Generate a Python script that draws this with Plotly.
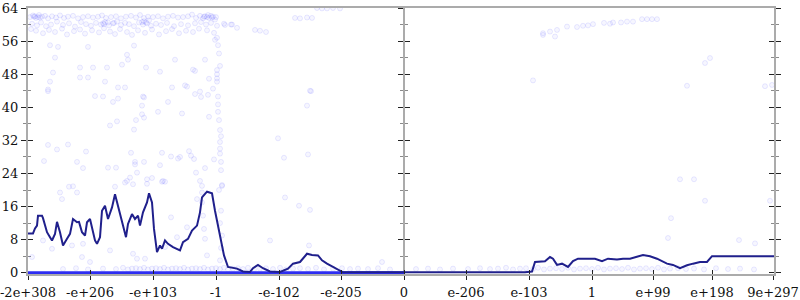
import plotly.graph_objects as go

# x values are ordinal positions of the double-precision inputs (0 .. 746), y is bits of error
tick_pos = [0, 62, 125, 188, 251, 313, 376, 438, 501, 564, 625, 684, 745]
tick_text = ["-2e+308", "-e+206", "-e+103", "-1", "-e-102", "-e-205", "0",
             "e-206", "e-103", "1", "e+99", "e+198", "9e+297"]
x_max = 746
zero_ord = 376

# average error line
mean_x = [0, 5, 7, 9, 10, 14, 15, 19, 22, 24, 27, 29, 32, 35, 39, 42, 45, 49, 51, 54,
          57, 59, 62, 64, 67, 69, 72, 74, 77, 80, 84, 87, 89, 92, 95, 98, 100, 104, 107, 110,
          112, 115, 119, 121, 124, 126, 129, 132, 134, 137, 140, 145, 152, 155, 160, 164, 169, 172, 174, 179,
          184, 187, 192, 196, 200,
          209, 215, 222, 225, 230, 235, 242, 252, 260, 265, 272, 279, 284, 290, 294, 299, 305, 310, 315,
          497, 504, 507, 512, 517, 522, 525, 529, 534, 540, 545, 550, 559, 567, 574, 580, 589, 595, 602, 607,
          615, 622, 629, 639, 645, 652, 659, 665, 672, 679, 684, 746]
mean_y = [9.5, 9.5, 10.7, 11.4, 13.8, 13.8, 13.2, 9.8, 8.6, 7.8, 9.4, 12.3, 9.8, 6.6, 8.2, 9.4, 13.0, 12.2, 12.3, 9.8,
          9.0, 12.2, 13.0, 11.0, 7.8, 7.0, 8.6, 15.0, 16.2, 13.0, 15.8, 19.0, 17.0, 13.8, 11.4, 8.6, 11.8, 14.2, 13.0, 13.8,
          11.4, 14.6, 17.0, 19.2, 17.0, 10.6, 5.0, 6.6, 5.8, 7.8, 7.0, 6.2, 5.4, 7.4, 8.2, 10.2, 11.4, 14.6, 18.2, 19.6,
          19.2, 15.0, 9.0, 4.2, 1.4,
          1.0, 0.3, 0.2, 1.1, 1.9, 1.1, 0.3, 0.2, 1.0, 2.2, 2.6, 4.6, 4.3, 4.2, 3.0, 2.2, 1.4, 0.6, 0.1,
          0.1, 0.3, 2.6, 2.7, 2.8, 3.8, 3.4, 1.9, 2.2, 1.4, 2.8, 3.4, 3.4, 3.4, 2.8, 3.4, 3.2, 3.4, 3.4, 3.8,
          4.3, 4.0, 3.4, 2.2, 1.9, 1.1, 1.8, 2.2, 2.6, 2.6, 4.0, 4.0]

# dense run of exact (0-bit) samples on the negative side
zero_run_x = [0, 376]
zero_run_y = [0, 0]

# sampled points (ordinal, bits)
band_top = [(2, 61.8), (5, 62.2), (8, 61.6), (11, 62.3), (14, 61.9), (17, 62.1), (20, 61.5), (24, 62.0), (28, 61.7), (32, 62.2),
            (36, 61.6), (40, 61.9), (45, 62.1), (50, 61.5), (55, 61.8), (60, 62.0), (65, 61.7), (70, 61.9), (74, 62.2), (78, 61.6),
            (83, 61.8), (88, 62.0), (93, 61.5), (98, 61.9), (103, 62.1), (108, 61.7), (112, 62.3), (116, 61.6), (120, 61.9), (125, 61.8),
            (130, 62.0), (135, 61.5), (140, 61.9), (145, 62.1), (150, 61.7), (155, 61.8), (160, 62.0), (164, 62.4), (168, 61.6), (172, 62.1),
            (176, 61.9), (180, 62.3), (184, 61.7), (188, 61.8),
            (6, 61.9), (7, 62.0), (10, 61.8), (12, 61.7), (175, 61.5), (177, 62.0), (179, 61.8), (181, 61.6), (183, 62.1), (185, 61.9), (187, 61.2)]
band_mid = [(4, 60.2), (9, 59.8), (13, 60.5), (18, 59.6), (23, 60.0), (29, 60.7), (35, 59.9), (41, 60.3), (47, 59.5), (53, 60.6),
            (58, 60.1), (63, 59.7), (68, 60.4), (73, 60.0), (77, 60.6), (81, 59.8), (85, 60.3), (89, 60.7), (93, 59.9), (97, 60.4),
            (101, 60.1), (106, 59.6), (111, 60.5), (115, 60.0), (119, 60.3), (123, 59.7), (128, 60.2), (133, 59.9), (139, 60.4), (146, 59.6),
            (153, 60.1), (160, 59.8), (167, 60.3), (173, 60.6), (178, 60.0), (183, 60.4), (189, 59.7), (196, 60.2), (204, 60.0),
            (75, 60.3), (76, 60.1), (80, 60.5), (86, 60.4), (114, 60.6), (116, 60.8), (118, 60.5), (121, 61.0),
            (197, 59.9), (203, 60.0), (209, 59.2)]
band_low = [(3, 58.9), (8, 58.5), (15, 57.9), (21, 58.7), (27, 58.2), (34, 59.0), (39, 57.6), (46, 58.4), (52, 58.8), (57, 57.8),
            (64, 58.6), (71, 58.1), (76, 59.1), (82, 58.3), (87, 57.7), (92, 58.9), (99, 58.2), (104, 57.5), (110, 58.6), (117, 58.0),
            (124, 58.8), (131, 57.6), (138, 58.4), (144, 58.9), (151, 57.9), (158, 58.5), (165, 58.2), (171, 59.0), (179, 58.6), (186, 58.0),
            (189, 56.8), (227, 58.7), (232, 58.5), (238, 58.2),
            (289, 64.0), (294, 63.9), (299, 63.9), (305, 64.0), (312, 63.9), (267, 61.6), (272, 61.5), (279, 61.7), (284, 61.6)]
scatter_left = [(22, 55.0), (30, 54.6), (60, 54.6), (27, 52.0), (99, 52.7), (100, 51.5), (106, 54.9), (147, 51.5), (177, 51.5), (187, 56.3),
                (25, 48.4), (52, 49.6), (65, 49.6), (79, 49.6), (94, 50.3), (118, 49.6), (132, 48.6), (165, 49.1), (167, 48.8), (189, 49.0),
                (189, 48.0), (189, 47.0), (189, 46.2), (181, 46.9), (22, 46.2), (52, 47.2), (60, 47.2), (77, 46.2), (90, 44.8), (97, 44.8),
                (115, 42.6), (144, 44.8), (157, 45.3), (172, 43.8), (180, 43.0), (20, 44.3), (75, 42.6), (159, 45.0), (185, 44.5), (190, 42.6),
                (282, 44.0), (20, 43.9), (67, 42.7), (85, 41.3), (90, 42.1), (116, 42.4), (140, 41.3), (167, 43.2), (173, 42.5), (190, 40.7),
                (190, 38.9), (114, 40.4), (130, 38.9), (154, 38.5), (114, 38.3), (116, 37.5), (108, 36.9), (89, 36.6), (82, 35.6), (106, 34.6),
                (181, 37.7), (191, 36.9), (192, 34.5), (192, 31.6), (20, 30.9), (29, 29.8), (40, 31.0), (58, 29.3), (16, 27.0), (49, 26.8),
                (55, 25.3), (80, 25.4), (88, 25.4), (103, 29.0), (107, 26.8), (107, 26.2), (116, 26.8), (134, 29.0), (143, 28.1), (150, 27.6),
                (152, 28.0), (161, 29.4), (163, 28.3), (166, 27.5), (186, 27.4), (192, 28.8), (193, 26.8), (193, 24.8), (109, 24.2), (119, 22.6),
                (124, 22.9), (102, 23.0), (97, 21.8), (105, 21.4), (134, 22.0), (137, 22.0), (168, 24.2), (177, 25.3), (132, 26.0), (41, 20.8),
                (45, 20.9), (87, 20.8), (194, 21.0), (194, 21.2), (191, 53.0), (192, 50.0), (190, 55.0), (193, 33.0), (192, 30.0), (191, 20.0),
                (193, 15.0), (192, 12.0), (194, 9.0), (193, 6.0), (192, 3.0),
                (32, 19.4), (49, 19.4), (34, 17.8), (15, 7.8), (4, 3.8), (54, 3.8), (62, 2.6), (82, 5.4), (105, 4.6), (109, 3.4),
                (117, 3.4), (137, 6.2), (143, 13.4), (149, 8.6), (159, 11.0), (169, 17.8), (172, 22.2), (174, 21.0), (174, 19.4), (174, 17.0),
                (175, 13.8), (176, 10.6), (177, 8.2), (179, 4.2), (135, 22.2), (99, 22.2), (119, 21.5), (55, 7.0), (24, 5.8), (44, 6.6),
                (257, 18.2), (271, 16.2), (282, 15.2), (242, 7.8), (281, 6.6), (354, 2.6),
                (250, 32.5), (256, 27.8), (280, 28.6), (279, 40.4), (283, 43.9)]
scatter_right = [(652, 22.6), (666, 22.6), (677, 17.4), (643, 13.2), (640, 8.4), (711, 7.9), (727, 7.1), (742, 17.4),
                 (515, 57.5), (515, 57.9), (522, 58.3), (529, 58.7), (527, 57.1), (539, 59.5), (549, 59.4), (555, 59.7), (560, 59.8), (565, 60.1),
                 (576, 60.4), (582, 60.2), (585, 60.5), (593, 60.5), (599, 60.7), (605, 60.7), (614, 61.3), (619, 61.3), (624, 61.3), (629, 61.3),
                 (505, 46.5), (659, 45.2), (677, 50.7), (682, 51.9), (737, 45.1), (744, 45.4)]
near_zero = [(35, 0.9), (48, 1.1), (60, 0.8), (75, 1.0), (88, 0.9), (95, 1.2), (100, 0.8), (104, 1.0), (108, 1.1), (112, 0.9),
             (116, 1.2), (120, 0.8), (124, 1.0), (128, 1.1), (132, 0.9), (136, 1.2), (140, 0.8), (144, 1.0), (148, 1.1), (152, 0.9),
             (156, 1.2), (160, 0.8), (164, 1.0), (168, 1.1), (172, 0.9), (176, 1.2), (180, 0.8), (184, 1.0), (188, 1.1), (192, 0.9),
             (196, 1.2), (200, 0.8), (205, 1.0), (210, 1.1), (215, 0.9), (220, 1.2), (226, 0.8), (232, 1.0), (238, 1.1), (245, 0.9),
             (252, 1.2), (258, 0.8), (265, 1.0), (272, 1.1), (280, 0.9), (288, 1.2), (296, 0.8), (305, 1.0), (314, 1.1), (322, 0.9),
             (330, 1.0), (340, 0.9), (350, 1.1), (362, 0.8),
             (388, 0.9), (400, 1.0), (412, 0.8), (425, 1.0), (440, 0.9), (452, 1.1), (462, 0.9), (470, 1.0), (478, 1.2), (485, 0.8),
             (492, 1.0), (498, 1.1), (505, 0.9), (510, 1.2), (516, 0.8), (522, 1.0), (528, 1.1), (534, 0.9), (540, 1.2), (546, 0.8),
             (552, 1.0), (558, 1.1), (564, 0.9), (570, 1.2), (576, 0.8), (582, 1.0), (588, 1.1), (594, 0.9), (600, 1.2), (606, 0.8),
             (612, 1.0), (618, 1.1), (624, 0.9), (630, 1.2), (636, 0.8), (642, 1.0), (650, 1.1), (658, 0.9), (666, 1.0), (676, 0.8),
             (688, 1.1), (700, 0.9), (712, 1.0), (726, 0.8)]

points = band_top + band_mid + band_low + scatter_left + scatter_right + near_zero
pts_x = [p[0] for p in points]
pts_y = [p[1] for p in points]

fig = go.Figure()
fig.add_trace(go.Scatter(
    x=pts_x, y=pts_y, mode="markers", cliponaxis=True,
    marker=dict(size=5, color="rgba(80,80,255,0.05)",
                line=dict(width=1, color="rgba(80,80,255,0.12)")),
    hoverinfo="skip"))
fig.add_trace(go.Scatter(x=zero_run_x, y=zero_run_y, mode="lines",
                         line=dict(color="#2d2df2", width=3), hoverinfo="skip"))
fig.add_trace(go.Scatter(x=mean_x, y=mean_y, mode="lines",
                         line=dict(color="#20208c", width=2), hoverinfo="skip"))

# empty traces so that the extra tick axes are laid out
for xa, ya in [("x2", "y"), ("x3", "y"), ("x", "y2"), ("x", "y3"), ("x", "y4"), ("x", "y5"), ("x", "y6")]:
    fig.add_trace(go.Scatter(x=[], y=[], xaxis=xa, yaxis=ya, mode="markers",
                             showlegend=False, hoverinfo="skip"))

axis_gray = "#ababab"
tick_dark = "#222222"
minor_gray = "#8a8a8a"
yr = [-0.3, 64]
xr = [0, x_max]

def yax(side, ticks, anchor, position=None, labels=False, line=False):
    d = dict(range=yr, tickmode="linear", tick0=0, dtick=8, ticks=ticks, ticklen=5,
             tickcolor=tick_dark, tickwidth=1, showticklabels=labels, side=side,
             showline=line, linecolor=axis_gray, linewidth=2, showgrid=False, zeroline=False,
             minor=dict(ticks=ticks, dtick=4, ticklen=3, tickcolor=minor_gray, tickwidth=1, showgrid=False),
             fixedrange=True, layer="below traces", automargin=False)
    if anchor == "free":
        d["anchor"] = "free"
        d["position"] = position
    else:
        d["anchor"] = anchor
    return d

fig.update_layout(
    width=800, height=300,
    margin=dict(l=28, r=26, t=8, b=26),
    plot_bgcolor="white", paper_bgcolor="white",
    showlegend=False,
    font=dict(family="DejaVu Serif", size=13, color="#111111"),
    xaxis=dict(range=xr, tickmode="array", tickvals=tick_pos, ticktext=tick_text,
               ticks="outside", ticklen=4, tickcolor=tick_dark, tickwidth=1, ticklabelstandoff=1,
               ticklabeloverflow="allow",
               showline=True, linecolor=axis_gray, linewidth=2, showgrid=False, zeroline=False,
               fixedrange=True, layer="below traces", automargin=False),
    xaxis2=dict(range=xr, overlaying="x", anchor="y", side="bottom", tickmode="array",
                tickvals=tick_pos, ticks="inside", ticklen=4, tickcolor=tick_dark, tickwidth=1,
                showticklabels=False, showline=False, showgrid=False, zeroline=False,
                fixedrange=True, automargin=False),
    xaxis3=dict(range=xr, overlaying="x", anchor="y", side="top", ticks="",
                showticklabels=False, showline=True, linecolor=axis_gray, linewidth=2,
                showgrid=False, zeroline=False, fixedrange=True, automargin=False),
    yaxis=yax("left", "outside", "x", labels=True, line=True),
)
fig.update_layout(
    yaxis2=dict(overlaying="y", **yax("left", "inside", "x")),
    yaxis3=dict(overlaying="y", **yax("left", "outside", "free", position=zero_ord / x_max, line=True)),
    yaxis4=dict(overlaying="y", **yax("left", "inside", "free", position=zero_ord / x_max)),
    yaxis5=dict(overlaying="y", **yax("right", "outside", "x", line=True)),
    yaxis6=dict(overlaying="y", **yax("right", "inside", "x")),
)

fig.write_html("out.html")
